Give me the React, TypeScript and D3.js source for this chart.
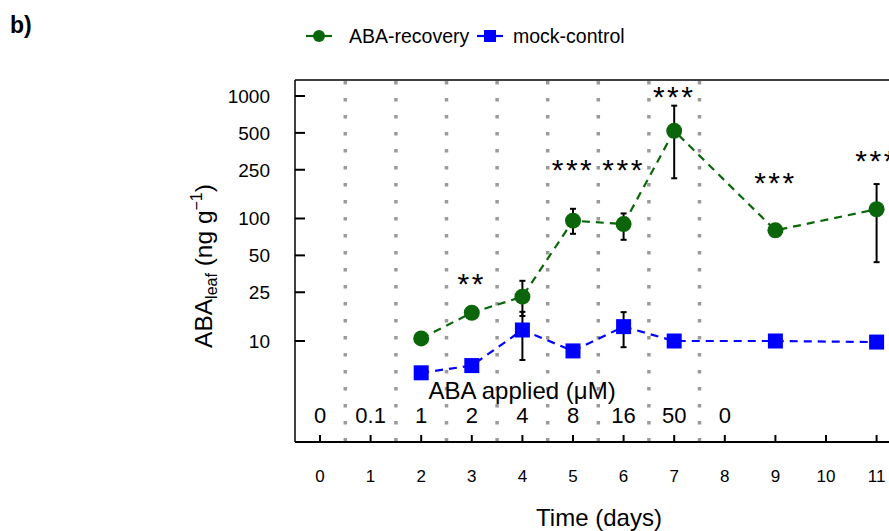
import React from "react";
import * as d3 from "d3";

const days = [2, 3, 4, 5, 6, 7, 9, 11];
const recovery = [10.5, 17, 23, 96, 90, 520, 80, 119];
const recoveryLow = [null, null, 16, 75, 67, 213, null, 44];
const recoveryHigh = [null, null, 31, 120, 110, 834, null, 191];
const mock = [5.5, 6.3, 12.3, 8.3, 13.1, 10, 10, 9.8];
const mockLow = [null, null, 7.0, null, 8.9, null, null, null];
const mockHigh = [null, null, 17.3, null, 17.2, null, null, null];

const yTicks = [10, 25, 50, 100, 250, 500, 1000];
const xTicks = [0, 1, 2, 3, 4, 5, 6, 7, 8, 9, 10, 11];
const abaApplied = ["0", "0.1", "1", "2", "4", "8", "16", "50", "0"];
const dividers = [0.5, 1.5, 2.5, 3.5, 4.5, 5.5, 6.5, 7.5];

const starDays = [3, 5, 6, 7, 9, 11];
const starLabels = ["**", "***", "***", "***", "***", "***"];
const starLevels = [33.5, 284, 284, 1120, 222, 336];

const GREEN = "#0b650b";
const BLUE = "#0000ff";
const FONT = "'Liberation Sans', Arial, Helvetica, sans-serif";

export default function App() {
  const W = 889;
  const H = 531;
  const left = 295;
  const top = 80;
  const axisY = 442;
  const x = d3.scaleLinear().domain([0, 11]).range([320, 876.6]);
  const y = d3.scaleLog().domain([10, 1000]).range([341, 96]);

  const line = d3
    .line<number>()
    .x((_, i) => x(days[i]))
    .y((v) => y(v));

  const capW = 3;

  const errorBars = (lo: (number | null)[], hi: (number | null)[]) =>
    days.map((d, i) => {
      const l = lo[i];
      const h = hi[i];
      if (l == null || h == null) return null;
      const cx = x(d);
      return (
        <g key={"e" + i} stroke="#000" strokeWidth={2}>
          <line x1={cx} x2={cx} y1={y(l)} y2={y(h)} />
          <line x1={cx - capW} x2={cx + capW} y1={y(l)} y2={y(l)} />
          <line x1={cx - capW} x2={cx + capW} y1={y(h)} y2={y(h)} />
        </g>
      );
    });

  return (
    <svg
      width={W}
      height={H}
      style={{ position: "absolute", left: 0, top: 0, background: "#fff" }}
      fontFamily={FONT}
    >
      <rect x={0} y={0} width={W} height={H} fill="#fff" />
      {/* panel label */}
      <text x={10} y={33} fontSize={23} fontWeight="bold" fill="#000">
        b)
      </text>

      {/* legend */}
      <g>
        <line x1={306} x2={332} y1={36} y2={36} stroke={GREEN} strokeWidth={2.2} />
        <circle cx={319} cy={36} r={6} fill={GREEN} />
        <text x={349} y={43} fontSize={19.5} fill="#000">
          ABA-recovery
        </text>
        <line x1={477} x2={503} y1={36} y2={36} stroke={BLUE} strokeWidth={2.2} />
        <rect x={484} y={30} width={12} height={12} fill={BLUE} />
        <text x={513} y={43} fontSize={19.5} fill="#000">
          mock-control
        </text>
      </g>

      {/* dotted dividers */}
      {dividers.map((d) => (
        <line
          key={"dv" + d}
          x1={x(d)}
          x2={x(d)}
          y1={top + 1}
          y2={axisY}
          stroke="#9a9a9a"
          strokeWidth={3.5}
          strokeDasharray="3.5 13.5"
        />
      ))}

      {/* frame */}
      <line x1={left} x2={W} y1={top} y2={top} stroke="#000" strokeWidth={1.5} />
      <line x1={left} x2={left} y1={top} y2={axisY} stroke="#000" strokeWidth={1.5} />
      <line x1={left} x2={W} y1={axisY} y2={axisY} stroke="#000" strokeWidth={2} />

      {/* y ticks */}
      {yTicks.map((t) => (
        <g key={"yt" + t}>
          <line x1={left} x2={left + 10} y1={y(t)} y2={y(t)} stroke="#000" strokeWidth={2} />
          <text x={270} y={y(t)} dy="0.36em" textAnchor="end" fontSize={19} fill="#000">
            {t}
          </text>
        </g>
      ))}

      {/* x ticks */}
      {xTicks.map((t) => (
        <g key={"xt" + t}>
          <line x1={x(t)} x2={x(t)} y1={axisY} y2={axisY - 7} stroke="#000" strokeWidth={2} />
          <text x={x(t)} y={482} textAnchor="middle" fontSize={17} fill="#000">
            {t}
          </text>
        </g>
      ))}

      {/* ABA applied labels */}
      {abaApplied.map((s, i) => (
        <text key={"ab" + i} x={x(i)} y={423} textAnchor="middle" fontSize={22} fill="#000">
          {s}
        </text>
      ))}
      <text x={522} y={399} textAnchor="middle" fontSize={24} fill="#000">
        ABA applied (μM)
      </text>

      {/* axis titles */}
      <text x={599} y={526} textAnchor="middle" fontSize={24} fill="#000">
        Time (days)
      </text>
      <text
        transform="translate(212,266) rotate(-90)"
        textAnchor="middle"
        fontSize={24.5}
        fill="#000"
      >
        ABA
        <tspan fontSize={16} dy={5}>
          leaf
        </tspan>
        <tspan dy={-5}> (ng g</tspan>
        <tspan fontSize={16} dy={-10}>
          −1
        </tspan>
        <tspan dy={10}>)</tspan>
      </text>

      {/* lines */}
      <path
        d={line(mock) || ""}
        fill="none"
        stroke={BLUE}
        strokeWidth={2.2}
        strokeDasharray="8 6"
      />
      <path
        d={line(recovery) || ""}
        fill="none"
        stroke={GREEN}
        strokeWidth={2.2}
        strokeDasharray="8 6"
      />

      {/* error bars */}
      {errorBars(mockLow, mockHigh)}
      {errorBars(recoveryLow, recoveryHigh)}

      {/* markers */}
      {mock.map((v, i) => (
        <rect
          key={"m" + i}
          x={x(days[i]) - 7.5}
          y={y(v) - 7.5}
          width={15}
          height={15}
          fill={BLUE}
        />
      ))}
      {recovery.map((v, i) => (
        <circle key={"r" + i} cx={x(days[i])} cy={y(v)} r={8} fill={GREEN} />
      ))}

      {/* significance stars */}
      {starDays.map((d, i) => (
        <text
          key={"s" + i}
          x={x(d)}
          y={y(starLevels[i]) + 17}
          textAnchor="middle"
          fontSize={30}
          letterSpacing={2.5}
          fill="#000"
        >
          {starLabels[i]}
        </text>
      ))}
    </svg>
  );
}
